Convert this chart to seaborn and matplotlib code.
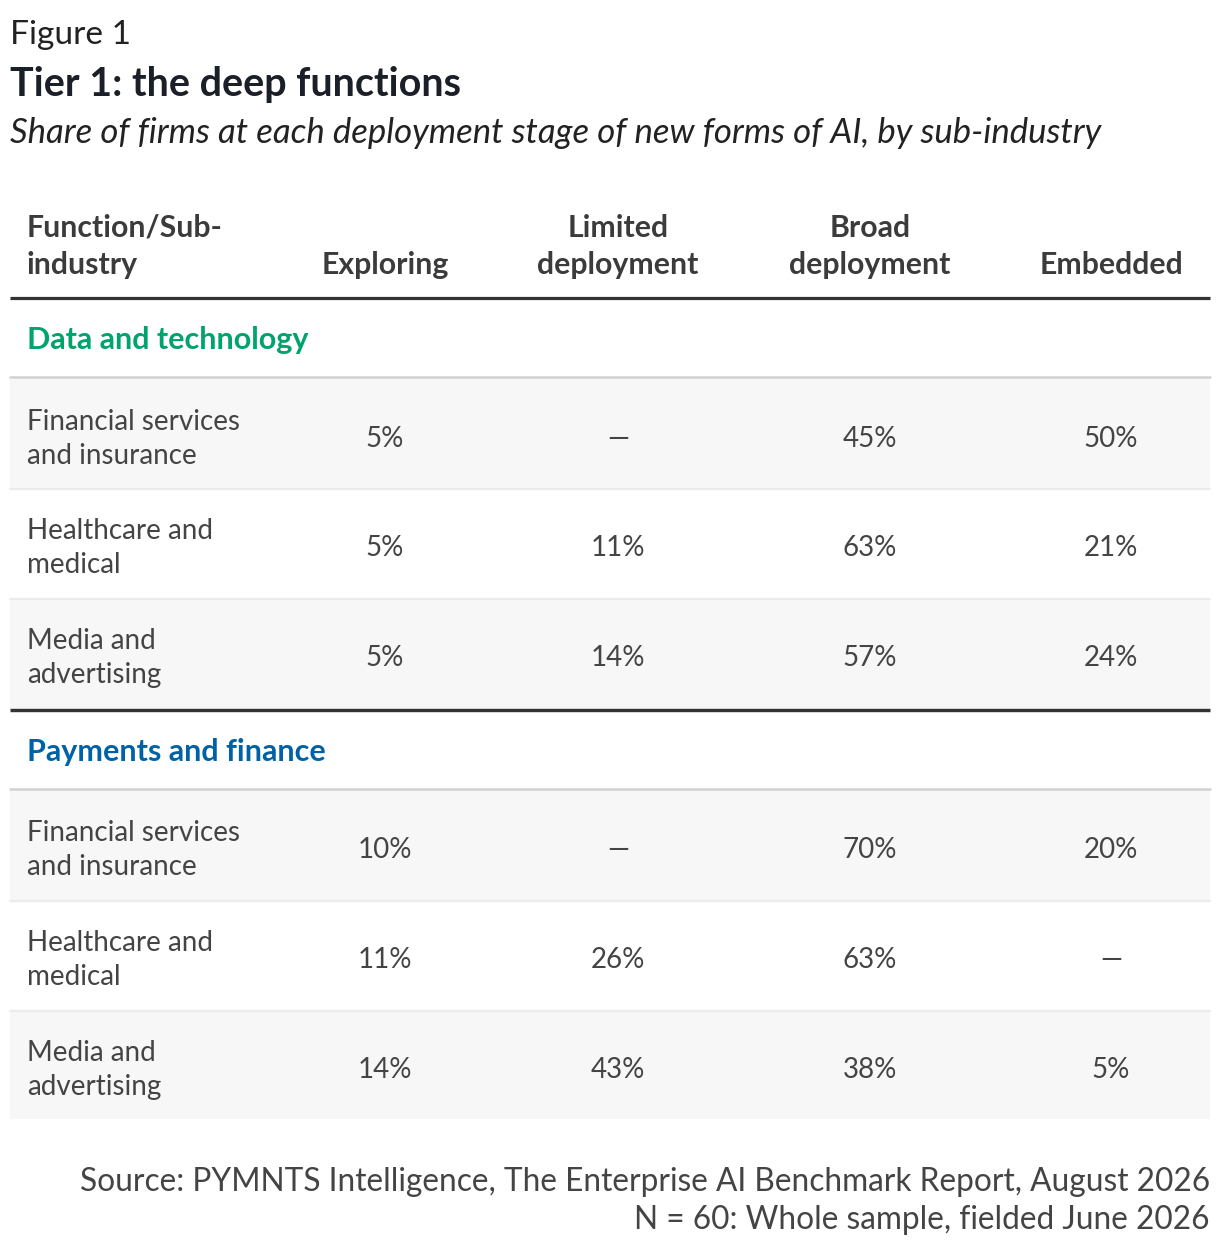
import numpy as np
import pandas as pd
import matplotlib
matplotlib.use("Agg")
import matplotlib.pyplot as plt
import seaborn as sns

# ---------------- data ----------------
columns = ["Exploring", "Limited\ndeployment", "Broad\ndeployment", "Embedded"]
groups = ["Data and technology", "Payments and finance"]
group_colors = ["#00a36c", "#0062a6"]
subindustries = ["Financial services\nand insurance", "Healthcare and\nmedical", "Media and\nadvertising"]
exploring = [5, 5, 5, 10, 11, 14]
limited = [np.nan, 11, 14, np.nan, 26, 43]
broad = [45, 63, 57, 70, 63, 38]
embedded = [50, 21, 24, 20, np.nan, 5]

title_fig = "Figure 1"
title = "Tier 1: the deep functions"
subtitle = "Share of firms at each deployment stage of new forms of AI, by sub-industry"
source_lines = ["Source: PYMNTS Intelligence, The Enterprise AI Benchmark Report, August 2026",
                "N = 60: Whole sample, fielded June 2026"]

df = pd.DataFrame({
    "group": np.repeat(groups, len(subindustries)),
    "sub": subindustries * len(groups),
    columns[0]: exploring, columns[1]: limited, columns[2]: broad, columns[3]: embedded,
})

# ---------------- style ----------------
sns.set_theme(style="white")
plt.rcParams["font.family"] = ["Lato", "DejaVu Sans"]

W, H = 1220, 1248
fig = plt.figure(figsize=(W / 100, H / 100), dpi=100)
ax = fig.add_axes([0, 0, 1, 1])
ax.set_xlim(0, W)
ax.set_ylim(H, 0)
ax.axis("off")

PX = 0.72  # px -> pt
TXT = "#444444"
HDR = "#3b3b3b"
XL, XR = 10, 1210
col_x = [385, 618, 870, 1111]
label_x = 27

# titles
ax.text(10, 44, title_fig, fontsize=33.5 * PX, color="#222222", va="baseline", ha="left")
ax.text(10, 96, title, fontsize=39.5 * PX, color="#1b1f27", fontweight="bold", va="baseline", ha="left")
ax.text(10, 143, subtitle, fontsize=34.8 * PX, color="#222222", style="italic", va="baseline", ha="left")

# header
hdr_fs = 30.3 * PX
hdr_base = [237, 274]
ax.text(label_x, hdr_base[0], "Function/Sub-", fontsize=hdr_fs, color=HDR, fontweight="bold", va="baseline")
ax.text(label_x, hdr_base[1], "industry", fontsize=hdr_fs, color=HDR, fontweight="bold", va="baseline")
for cx, c in zip(col_x, columns):
    parts = c.split("\n")
    for k, p in enumerate(reversed(parts)):
        ax.text(cx, hdr_base[1] - k * (hdr_base[1] - hdr_base[0]), p, fontsize=hdr_fs,
                color=HDR, fontweight="bold", va="baseline", ha="center")
ax.plot([XL, XR], [297.5, 297.5], color="#333333", lw=3.2 * PX, solid_capstyle="butt")

# groups
group_label_base = [349, 761]
group_top_line = [377, 789]
row_bounds = [[378, 489, 599, 709], [790, 901, 1011, 1119]]
row_centers = [[437, 546, 656], [848, 958, 1068]]
body_fs = 27.8 * PX
line_gap = 34
cap_half = 9.8

for gi, g in enumerate(groups):
    ax.text(label_x, group_label_base[gi], g, fontsize=30.5 * PX, color=group_colors[gi],
            fontweight="bold", va="baseline")
    sub = df[df["group"] == g].reset_index(drop=True)
    for ri in range(len(sub)):
        y0, y1 = row_bounds[gi][ri], row_bounds[gi][ri + 1]
        if ri % 2 == 0:
            ax.fill_between([XL, XR], y0, y1, color="#f7f7f7", lw=0, zorder=0)
        if ri > 0:
            ax.plot([XL, XR], [y0, y0], color="#ebebeb", lw=2.2 * PX, zorder=1)
        yc = row_centers[gi][ri]
        lines = sub.loc[ri, "sub"].split("\n")
        n = len(lines)
        for li, ln in enumerate(lines):
            yb = yc + cap_half + (li - (n - 1) / 2) * line_gap
            ax.text(label_x, yb, ln, fontsize=body_fs, color=TXT, va="baseline", ha="left")
        for cx, c in zip(col_x, columns):
            v = sub.loc[ri, c]
            s = "—" if pd.isna(v) else f"{int(v)}%"
            ax.text(cx, yc + cap_half, s, fontsize=body_fs, color=TXT, va="baseline", ha="center")
    ax.plot([XL, XR], [group_top_line[gi], group_top_line[gi]], color="#d3d3d3", lw=2.6 * PX, zorder=2)

ax.plot([XL, XR], [710, 710], color="#333333", lw=3.4 * PX, solid_capstyle="butt", zorder=3)

# source
src_base = [1191, 1229]
for yb, s in zip(src_base, source_lines):
    ax.text(XR, yb, s, fontsize=31.7 * PX, color=TXT, va="baseline", ha="right")

fig.savefig("out.png", dpi=100)
